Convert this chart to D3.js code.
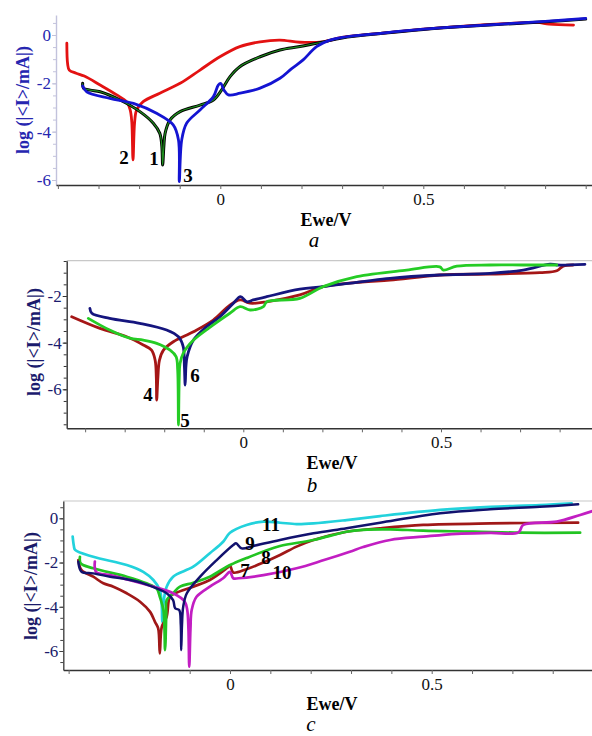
<!DOCTYPE html>
<html><head><meta charset="utf-8">
<script src="https://cdn.jsdelivr.net/npm/d3@7"></script>
<style>body{margin:0;background:#fff}svg{display:block}</style>
</head><body>
<svg id="chart" width="592" height="736"></svg>
<script>
// ---------- DATA (Ewe/V, log(|I|/mA)) ----------
// Panel a
const curveA1 = [[-0.339,-2.0],[-0.337,-2.2],[-0.32,-2.28],[-0.296,-2.35],[-0.247,-2.69],[-0.198,-3.17],[-0.165,-3.65],[-0.149,-4.07],[-0.144,-4.6],[-0.142,-5.38],[-0.139,-4.6],[-0.136,-4.07],[-0.124,-3.52],[-0.099,-3.17],[-0.05,-2.9],[-0.017,-2.69],[0.003,-2.28],[0.024,-1.72],[0.048,-1.31],[0.098,-0.9],[0.147,-0.62],[0.196,-0.48],[0.25,-0.3],[0.3,-0.12],[0.4,0.07],[0.5,0.23],[0.6,0.35],[0.7,0.45],[0.8,0.55],[0.9,0.66]];
const curveA2 = [[-0.378,-0.34],[-0.376,-1.2],[-0.372,-1.45],[-0.355,-1.58],[-0.335,-1.7],[-0.296,-2.07],[-0.255,-2.48],[-0.231,-2.76],[-0.222,-3.1],[-0.218,-3.6],[-0.215,-5.17],[-0.211,-3.6],[-0.206,-3.1],[-0.19,-2.76],[-0.149,-2.41],[-0.099,-2.0],[-0.05,-1.45],[-0.001,-0.9],[0.048,-0.48],[0.098,-0.28],[0.147,-0.21],[0.196,-0.3],[0.253,-0.28],[0.3,-0.1],[0.4,0.08],[0.5,0.24],[0.6,0.37],[0.7,0.47],[0.78,0.52],[0.81,0.45],[0.87,0.41]];
const curveA3 = [[-0.339,-2.11],[-0.329,-2.35],[-0.272,-2.62],[-0.214,-2.83],[-0.157,-3.24],[-0.116,-3.72],[-0.103,-4.34],[-0.101,-6.07],[-0.095,-4.34],[-0.083,-3.65],[-0.05,-3.1],[-0.017,-2.55],[-0.005,-2.07],[0.001,-2.0],[0.009,-2.28],[0.02,-2.48],[0.049,-2.41],[0.098,-2.2],[0.147,-1.79],[0.175,-1.4],[0.204,-1.03],[0.237,-0.48],[0.27,-0.21],[0.3,-0.1],[0.4,0.08],[0.5,0.24],[0.6,0.36],[0.7,0.46],[0.8,0.56],[0.9,0.69]];
// Panel b
const curveB4 = [[-0.434,-2.89],[-0.3625,-3.39],[-0.295,-3.75],[-0.253,-4.10],[-0.232,-4.32],[-0.223,-4.75],[-0.220,-5.5],[-0.219,-6.46],[-0.216,-5.5],[-0.212,-4.75],[-0.202,-4.32],[-0.177,-3.96],[-0.126,-3.53],[-0.076,-3.03],[-0.034,-2.39],[-0.008,-2.17],[0.017,-2.31],[0.059,-2.25],[0.143,-1.95],[0.202,-1.6],[0.3,-1.4],[0.371,-1.32],[0.497,-1.1],[0.624,-1.06],[0.75,-1.0],[0.793,-0.92],[0.809,-0.72],[0.834,-0.67]];
const curveB5 = [[-0.392,-2.96],[-0.338,-3.46],[-0.287,-3.81],[-0.253,-3.89],[-0.219,-4.03],[-0.185,-4.32],[-0.170,-4.60],[-0.166,-5.17],[-0.164,-7.53],[-0.162,-5.5],[-0.160,-4.89],[-0.152,-4.46],[-0.126,-3.89],[-0.076,-3.24],[-0.034,-2.74],[-0.008,-2.46],[0.017,-2.60],[0.051,-2.46],[0.059,-2.25],[0.143,-2.10],[0.202,-1.6],[0.287,-1.17],[0.413,-0.89],[0.497,-0.75],[0.506,-0.89],[0.540,-0.72],[0.624,-0.67],[0.708,-0.67],[0.793,-0.67]];
const curveB6 = [[-0.388,-2.53],[-0.383,-2.74],[-0.338,-2.96],[-0.262,-3.17],[-0.194,-3.46],[-0.164,-3.75],[-0.152,-4.17],[-0.149,-5.0],[-0.147,-5.82],[-0.145,-5.0],[-0.142,-4.60],[-0.126,-3.89],[-0.093,-3.32],[-0.059,-2.89],[-0.025,-2.31],[-0.007,-2.03],[0.009,-2.25],[0.025,-2.17],[0.059,-2.03],[0.143,-1.71],[0.202,-1.60],[0.371,-1.24],[0.497,-1.10],[0.624,-1.03],[0.708,-0.89],[0.776,-0.63],[0.793,-0.67],[0.864,-0.64]];
// Panel c
const curveC7 = [[-0.376,-1.89],[-0.368,-2.34],[-0.339,-2.64],[-0.314,-2.94],[-0.289,-3.09],[-0.256,-3.39],[-0.223,-3.77],[-0.198,-4.23],[-0.186,-4.68],[-0.178,-4.98],[-0.174,-6.11],[-0.169,-4.90],[-0.157,-4.45],[-0.149,-3.55],[-0.136,-3.39],[-0.091,-3.09],[-0.050,-2.79],[-0.008,-2.26],[0,-2.14],[0.008,-2.45],[0.041,-2.30],[0.083,-2.0],[0.124,-1.66],[0.165,-1.28],[0.207,-0.98],[0.289,-0.61],[0.372,-0.45],[0.479,-0.30],[0.645,-0.23],[0.863,-0.20]];
const curveC8 = [[-0.372,-1.74],[-0.370,-2.04],[-0.339,-2.26],[-0.256,-2.64],[-0.207,-2.94],[-0.182,-3.17],[-0.174,-3.55],[-0.165,-4.15],[-0.161,-5.96],[-0.158,-4.3],[-0.157,-3.70],[-0.141,-3.39],[-0.124,-3.09],[-0.091,-2.91],[-0.050,-2.64],[-0.008,-2.19],[0.008,-2.05],[0.041,-1.80],[0.083,-1.50],[0.124,-1.25],[0.207,-0.98],[0.289,-0.61],[0.33,-0.52],[0.397,-0.50],[0.479,-0.56],[0.603,-0.60],[0.719,-0.65],[0.868,-0.65]];
const curveC9 = [[-0.376,-1.96],[-0.368,-2.42],[-0.339,-2.49],[-0.297,-2.64],[-0.256,-2.76],[-0.215,-2.94],[-0.182,-3.17],[-0.157,-3.39],[-0.141,-3.70],[-0.136,-4.07],[-0.126,-4.15],[-0.122,-4.8],[-0.121,-5.96],[-0.119,-4.8],[-0.116,-4.0],[-0.107,-3.39],[-0.074,-2.64],[-0.033,-1.89],[0.008,-1.21],[0.015,-1.13],[0.029,-1.36],[0.058,-1.25],[0.124,-0.98],[0.207,-0.68],[0.289,-0.45],[0.372,-0.2],[0.521,0.23],[0.645,0.41],[0.768,0.52],[0.863,0.63]];
const curveC10 = [[-0.335,-1.96],[-0.332,-2.42],[-0.297,-2.57],[-0.256,-2.76],[-0.190,-3.09],[-0.141,-3.39],[-0.112,-3.77],[-0.106,-4.15],[-0.103,-5.0],[-0.101,-6.71],[-0.098,-5.0],[-0.095,-4.15],[-0.083,-3.55],[-0.050,-3.09],[-0.017,-2.71],[0,-2.42],[0.008,-2.71],[0.021,-2.71],[0.083,-2.57],[0.165,-2.26],[0.231,-1.90],[0.297,-1.51],[0.330,-1.3],[0.397,-0.98],[0.479,-0.83],[0.562,-0.70],[0.645,-0.66],[0.715,-0.64],[0.727,-0.30],[0.810,-0.15],[0.868,0.15],[0.92,0.45]];
const curveC11 = [[-0.390,-0.83],[-0.387,-1.25],[-0.384,-1.43],[-0.339,-1.74],[-0.256,-2.11],[-0.215,-2.42],[-0.190,-2.79],[-0.174,-3.24],[-0.169,-4.0],[-0.168,-4.68],[-0.164,-3.70],[-0.157,-3.09],[-0.141,-2.64],[-0.091,-2.19],[-0.050,-1.58],[-0.017,-1.06],[0,-0.65],[0.041,-0.30],[0.083,-0.15],[0.124,-0.20],[0.165,-0.26],[0.207,-0.23],[0.289,-0.08],[0.372,0.10],[0.521,0.38],[0.645,0.52],[0.768,0.60],[0.847,0.68]];

const xMinorTicks = [-0.4,-0.3,-0.2,-0.1,0,0.1,0.2,0.3,0.4,0.5,0.6,0.7,0.8,0.9];
const xTickLabels = ["0","0.5"];          // shown at V = 0 and 0.5
const yTickLabels = ["0","-2","-4","-6"];  // major y ticks
const curveLabelsA = ["1","2","3"];
const curveLabelsB = ["4","5","6"];
const curveLabelsC = ["7","8","9","10","11"];
const panelLetters = ["a","b","c"];
const xTitle = "Ewe/V";
const yTitle = "log (|<I>/mA|)";

// ---------- LAYOUT / STYLE ----------
const svg = d3.select("#chart");
const FONT = "'Liberation Serif','Times New Roman',serif";

const panels = [
  { left:56, right:592, top:15, bottom:185, xRef:[220.3,423.3], yRef:[35,180], yRefVal:[0,-6],
    yAxisColor:"#c2c2dc", yTextColor:"#2626b0", topLine:false,
    yTitlePos:[23,100], xTitlePos:[326,226], letterPos:[314,247], letter:panelLetters[0],
    series:[
      {data:curveA2, color:"#e31212", w:2.8},
      {data:curveA1, color:"#000", w:3, inner:"#1f8f1f"},
      {data:curveA3, color:"#1414d2", w:2.8}],
    labels:[{t:curveLabelsA[1],x:124,y:157},{t:curveLabelsA[0],x:154,y:158},{t:curveLabelsA[2],x:188,y:175}] },
  { left:66.7, right:592, top:260.7, bottom:428.3, xRef:[243.3,441], yRef:[296,389.3], yRefVal:[-2,-6],
    yAxisColor:"#333", yTextColor:"#1b1b6e", topLine:true,
    yTitlePos:[34,342], xTitlePos:[332,469], letterPos:[312,492], letter:panelLetters[1],
    series:[
      {data:curveB4, color:"#a51616", w:2.8},
      {data:curveB6, color:"#15157e", w:2.8},
      {data:curveB5, color:"#25cc25", w:2.8}],
    labels:[{t:curveLabelsB[0],x:148,y:394},{t:curveLabelsB[1],x:185,y:420},{t:curveLabelsB[2],x:195,y:375}] },
  { left:63.3, right:592, top:501, bottom:670, xRef:[230,431.7], yRef:[518.3,651], yRefVal:[0,-6],
    yAxisColor:"#444", yTextColor:"#1b1b6a", topLine:true,
    yTitlePos:[31,586], xTitlePos:[332,710], letterPos:[311,731], letter:panelLetters[2],
    series:[
      {data:curveC11, color:"#22d2dc", w:2.7},
      {data:curveC7, color:"#a01818", w:2.7},
      {data:curveC8, color:"#22c422", w:2.7},
      {data:curveC10, color:"#c21ec2", w:2.7},
      {data:curveC9, color:"#12126e", w:2.5}],
    labels:[{t:curveLabelsC[4],x:271,y:524},{t:curveLabelsC[2],x:250,y:543},{t:curveLabelsC[1],x:266,y:557},{t:curveLabelsC[0],x:245,y:570},{t:curveLabelsC[3],x:282,y:572}] }
];

panels.forEach((p, i) => {
  const x0 = d3.scaleLinear().domain([0,0.5]).range(p.xRef);
  const x = d3.scaleLinear().domain([x0.invert(p.left), x0.invert(p.right)]).range([p.left, p.right]);
  const y0 = d3.scaleLinear().domain(p.yRefVal).range(p.yRef);
  const y = d3.scaleLinear().domain([y0.invert(p.bottom), y0.invert(p.top)]).range([p.bottom, p.top]);
  const g = svg.append("g");

  const clipId = "clip" + i;
  svg.append("clipPath").attr("id", clipId).append("rect")
    .attr("x", p.left).attr("y", p.top - 2).attr("width", p.right - p.left).attr("height", p.bottom - p.top + 2);

  if (p.topLine) {
    g.append("line").attr("x1", p.left).attr("x2", p.right).attr("y1", p.top).attr("y2", p.top)
      .attr("stroke", "#c8c8c8").attr("stroke-width", 1.2);
  }

  // y axis minor ticks
  const [ylo, yhi] = y.domain();
  const yMinor = d3.range(Math.ceil(ylo*2)/2, yhi + 1e-9, 0.5);
  const yMinorAxis = d3.axisLeft(y).tickValues(yMinor).tickSize(3).tickSizeOuter(0).tickFormat("");
  const gyMinor = g.append("g").attr("transform", `translate(${p.left},0)`).call(yMinorAxis);
  gyMinor.selectAll("line").attr("stroke", p.yAxisColor);
  gyMinor.select(".domain").attr("stroke", p.yAxisColor).attr("stroke-width", 1.4);

  // y axis majors
  const yMajorVals = yTickLabels.map(Number).filter(v => v >= ylo && v <= yhi);
  const yAxis = d3.axisLeft(y).tickValues(yMajorVals).tickSize(4).tickPadding(1).tickSizeOuter(0)
    .tickFormat(d => yTickLabels.find(s => Number(s) === d));
  const gy = g.append("g").attr("transform", `translate(${p.left},0)`).call(yAxis);
  gy.select(".domain").remove();
  gy.selectAll("line").attr("stroke", p.yAxisColor);
  gy.selectAll("text").attr("fill", p.yTextColor).attr("font-family", FONT).attr("font-size", 17);

  // x axis
  const xa = d3.axisBottom(x).tickValues(xMinorTicks.filter(v => v >= x.domain()[0] && v <= x.domain()[1]))
    .tickSize(4).tickPadding(4).tickSizeOuter(0)
    .tickFormat(d => (Math.abs(d) < 1e-9 ? xTickLabels[0] : Math.abs(d - 0.5) < 1e-9 ? xTickLabels[1] : ""));
  const gx = g.append("g").attr("transform", `translate(0,${p.bottom})`).call(xa);
  gx.select(".domain").attr("stroke", "#333").attr("stroke-width", 1.4);
  gx.selectAll("line").attr("stroke", "#666");
  gx.selectAll("text").attr("fill", "#111").attr("font-family", FONT).attr("font-size", 17);

  // curves
  const line = d3.line().x(d => x(d[0])).y(d => y(d[1])).curve(d3.curveCatmullRom.alpha(0.5));
  const cg = g.append("g").attr("clip-path", `url(#${clipId})`);
  p.series.forEach(s => {
    cg.append("path").datum(s.data).attr("d", line).attr("fill", "none")
      .attr("stroke", s.color).attr("stroke-width", s.w).attr("stroke-linejoin", "round").attr("stroke-linecap", "round");
    if (s.inner) {
      cg.append("path").datum(s.data).attr("d", line).attr("fill", "none")
        .attr("stroke", s.inner).attr("stroke-width", 1.2).attr("stroke-linejoin", "round");
    }
  });

  // curve number labels
  p.labels.forEach(l => {
    g.append("text").attr("x", l.x).attr("y", l.y).attr("text-anchor", "middle").attr("dominant-baseline", "central")
      .attr("font-family", FONT).attr("font-weight", "bold").attr("font-size", 19).attr("fill", "#000").text(l.t);
  });

  // titles
  g.append("text").attr("transform", `translate(${p.yTitlePos[0]},${p.yTitlePos[1]}) rotate(-90)`)
    .attr("text-anchor", "middle").attr("dominant-baseline", "central")
    .attr("font-family", FONT).attr("font-weight", "bold").attr("font-size", 18).attr("fill", p.yTextColor).text(yTitle);
  g.append("text").attr("x", p.xTitlePos[0]).attr("y", p.xTitlePos[1]).attr("text-anchor", "middle")
    .attr("font-family", FONT).attr("font-weight", "bold").attr("font-size", 18).attr("fill", "#000").text(xTitle);
  g.append("text").attr("x", p.letterPos[0]).attr("y", p.letterPos[1]).attr("text-anchor", "middle")
    .attr("font-family", FONT).attr("font-style", "italic").attr("font-size", 21).attr("fill", "#000").text(p.letter);
});
</script>
</body></html>
